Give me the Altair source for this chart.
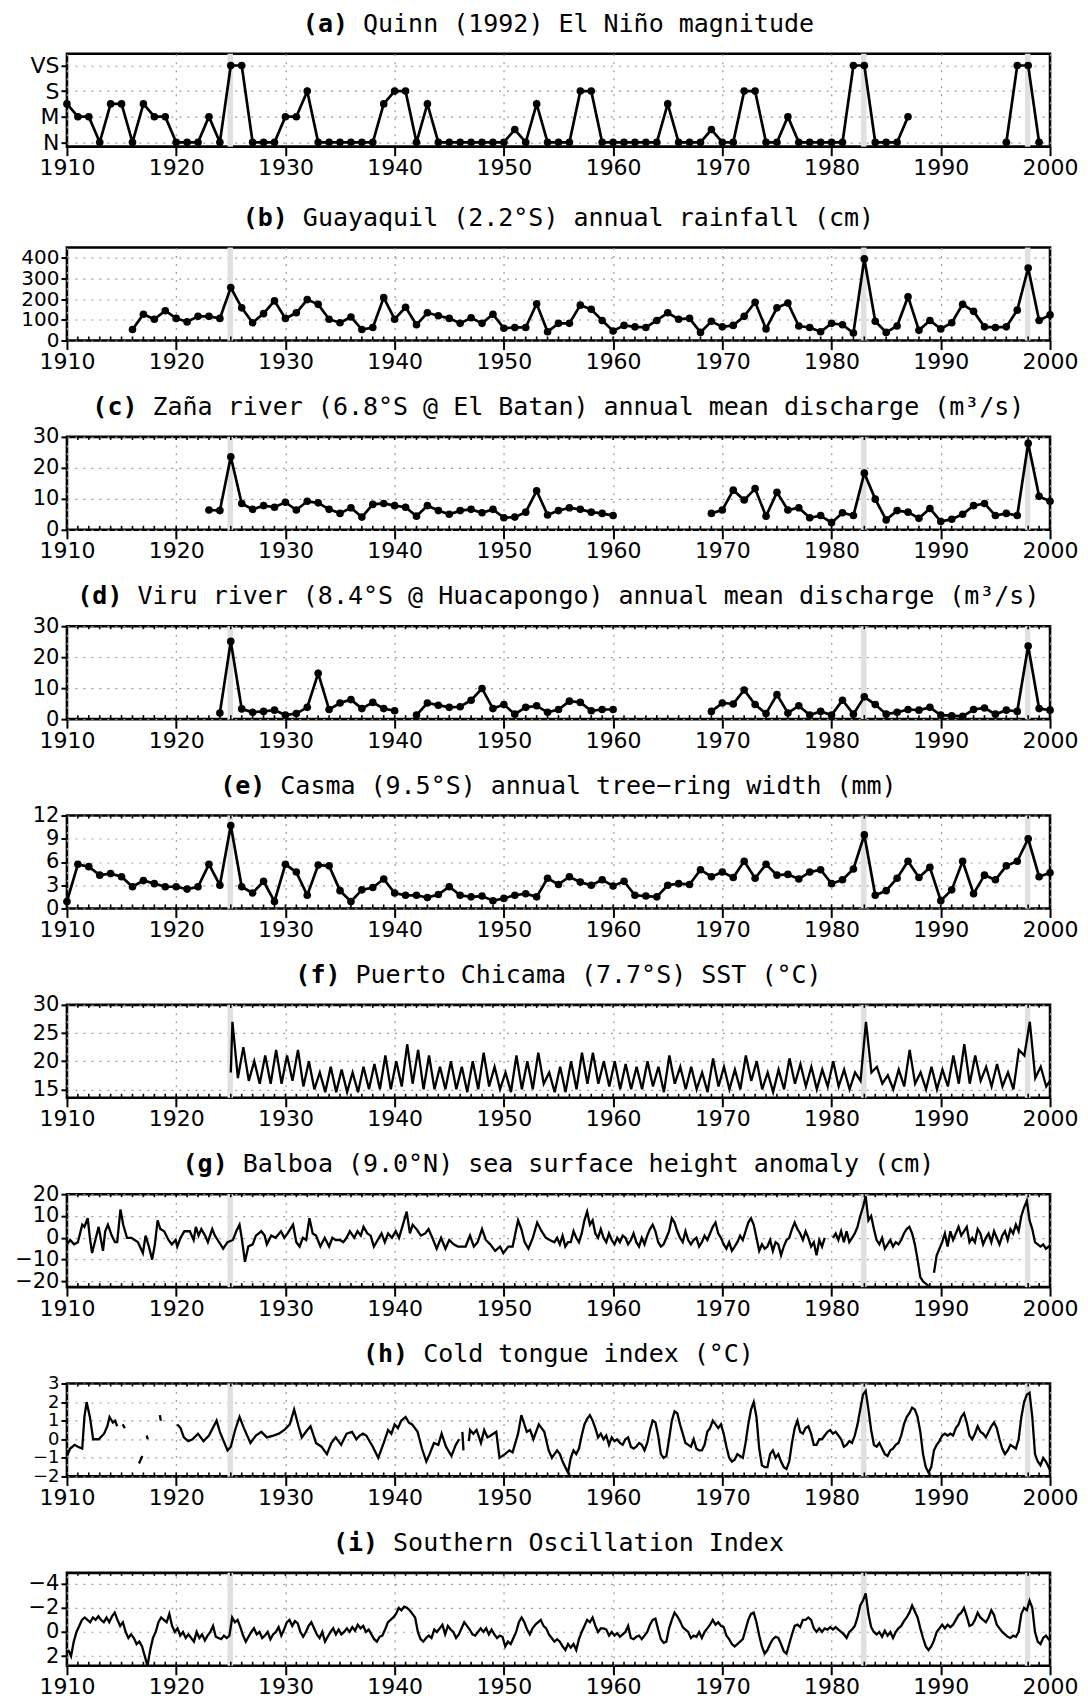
import altair as alt
import pandas as pd

# ---------------- data ----------------
DECADES = list(range(1910, 2001, 10))
YEARS = list(range(1910, 2001))
EVENT_BANDS = [(1924.7, 1925.2), (1982.7, 1983.2), (1997.7, 1998.2)]

# (a) Quinn magnitude 1910-1999 (N=0, M=1, S=2, VS=3)
quinn = [1.5, 1, 1, 0, 1.5, 1.5, 0, 1.5, 1, 1,
         0, 0, 0, 1, 0, 3, 3, 0, 0, 0,
         1, 1, 2, 0, 0, 0, 0, 0, 0, 1.5,
         2, 2, 0, 1.5, 0, 0, 0, 0, 0, 0,
         0, 0.5, 0, 1.5, 0, 0, 0, 2, 2, 0,
         0, 0, 0, 0, 0, 1.5, 0, 0, 0, 0.5,
         0, 0, 2, 2, 0, 0, 1, 0, 0, 0,
         0, 0, 3, 3, 0, 0, 0, 1, None, None,
         None, None, None, None, None, None, 0, 3, 3, 0]

# (b) Guayaquil rainfall 1916-2000 (cm)
guayaquil = [53, 127, 103, 144,
             107, 90, 117, 117, 107, 256, 158, 86, 130, 192,
             107, 134, 198, 175, 103, 86, 114, 53, 63, 208,
             103, 161, 76, 134, 120, 107, 83, 110, 83, 127,
             59, 63, 63, 178, 42, 83, 83, 171, 151, 97,
             46, 73, 66, 63, 97, 134, 103, 107, 39, 93,
             66, 73, 117, 185, 56, 158, 181, 70, 63, 42,
             83, 76, 36, 395, 93, 39, 70, 212, 49, 97,
             56, 86, 175, 141, 66, 63, 66, 147, 351, 97,
             124]

# (c) Zana river 1923-2000 (m3/s)
zana = [6.4, 6.2, 23.6, 8.5, 6.6, 7.8, 7.3,
        8.9, 6.4, 9.2, 8.7, 6.6, 5.3, 7.1, 4.1, 8.2, 8.5,
        7.8, 7.3, 4.4, 7.8, 6.2, 5.0, 6.2, 6.6, 5.5, 6.6,
        3.9, 4.1, 5.7, 12.6, 4.8, 6.2, 7.1, 6.6, 5.7, 5.3,
        4.6, None, None, None, None, None, None, None, None, 5.3,
        6.4, 12.8, 9.6, 13.3, 4.4, 12.1, 6.4, 7.1, 3.9, 4.6,
        2.3, 5.5, 4.6, 18.3, 9.9, 3.2, 6.2, 5.7, 3.7, 6.9,
        2.7, 3.4, 5.0, 7.8, 8.5, 4.6, 5.3, 4.6, 27.9, 10.8,
        9.2]

# (d) Viru river 1924-2000 (m3/s)
viru = [2.0, 25.1, 3.3, 2.2, 2.5, 2.9,
        1.3, 1.8, 3.8, 14.8, 3.1, 5.2, 6.3, 3.4, 5.4, 3.4,
        2.7, None, 1.3, 5.2, 4.5, 3.8, 4.0, 6.1, 9.9, 3.4,
        4.7, 1.6, 3.8, 4.3, 2.2, 3.1, 5.8, 5.4, 2.7, 3.1,
        3.1, None, None, None, None, None, None, None, None, 2.5,
        5.2, 4.9, 9.4, 4.7, 1.8, 7.9, 2.0, 4.3, 1.3, 2.5,
        1.3, 6.1, 1.6, 7.2, 4.7, 1.6, 2.2, 3.1, 2.9, 3.8,
        1.3, 1.1, 0.9, 3.1, 3.6, 1.6, 2.9, 2.5, 23.6, 3.4,
        2.9]

# (e) Casma tree-ring width 1910-2000 (mm)
casma = [0.9, 5.7, 5.4, 4.3, 4.5, 4.1, 2.8, 3.6, 3.2, 2.8,
         2.8, 2.5, 2.8, 5.7, 3.0, 10.7, 2.8, 2.0, 3.5, 0.9,
         5.7, 4.7, 1.7, 5.6, 5.5, 2.3, 0.9, 2.4, 2.7, 3.8,
         2.0, 1.7, 1.7, 1.4, 1.8, 2.8, 1.7, 1.5, 1.6, 1.0,
         1.3, 1.7, 1.9, 1.5, 3.9, 3.1, 4.1, 3.4, 3.0, 3.7,
         2.9, 3.5, 1.7, 1.6, 1.5, 3.0, 3.2, 3.1, 5.0, 4.1,
         4.7, 4.0, 6.1, 3.9, 5.7, 4.3, 4.4, 3.8, 4.7, 5.0,
         3.2, 3.7, 5.1, 9.5, 1.7, 2.3, 3.9, 6.1, 4.0, 5.3,
         1.0, 2.4, 6.1, 1.9, 4.3, 3.7, 5.5, 6.1, 9.0, 4.1,
         4.6]

# (f) Puerto Chicama SST 1925-2000: yearly warm-season peak and cold-season low
sst_peak = [27, 22.5, 20, 21, 22, 21, 22, 20, 18, 19,
            18.5, 18, 19, 19.5, 21, 20, 23, 22, 21, 19,
            20, 19, 20, 21.5, 19, 18, 21, 20, 21.5, 18,
            19, 20, 21.5, 21.5, 20, 20, 19.5, 19, 20, 19,
            21, 19, 19, 18, 20.5, 19, 18.5, 21, 20, 18,
            18.5, 20.5, 19.5, 19, 18.5, 20, 18.5, 18, 27, 19,
            17.5, 18.5, 22, 18, 19, 18.5, 21, 23, 21, 19,
            19.5, 18, 22, 27, 19, 17]
sst_low = [17, 16.5, 16, 16, 16, 16.5, 15.5, 15, 14.5, 14.5,
           14.5, 14.5, 15, 15, 15, 15.5, 16, 15, 15, 15,
           15, 14.5, 15, 15.5, 15, 14.5, 15, 15, 16, 14.5,
           14.5, 15, 16, 16, 15.5, 15, 15, 15, 15.5, 14.5,
           16, 15, 15, 14.5, 15.5, 15, 15, 16.5, 15, 14.5,
           15, 16, 15.5, 15, 15.5, 15.5, 15, 16.5, 18, 16,
           15, 15.5, 16, 15, 15, 15.5, 16, 16, 16.5, 15.5,
           15.5, 15, 21, 17, 15.5, 14.5]

# (g) Balboa sea level anomaly (cm): 1910-1954 read point by point
balboa_early = [(1910.0, -3), (1910.3, -1), (1910.65, -3), (1911.0, -2), (1911.4, 6), (1911.6, 5),
                (1911.9, 9), (1912.1, 0), (1912.3, -7), (1912.6, -1), (1912.9, 5), (1913.3, -6),
                (1913.5, 3), (1913.75, 6), (1914.1, 1), (1914.4, -2), (1914.6, -2), (1914.9, 13),
                (1915.15, 6), (1915.5, 0), (1915.9, 0), (1916.2, -1), (1916.5, -2), (1916.95, -7),
                (1917.2, 1), (1917.5, -4), (1917.8, -10), (1918.05, -3), (1918.3, 8), (1918.55, 4),
                (1918.9, 3), (1919.3, -1), (1919.6, -3), (1919.95, -1), (1920.1, -4), (1920.4, 0),
                (1920.75, 3), (1921.25, 3), (1921.6, -1), (1921.8, 5), (1922.05, 1), (1922.3, 4),
                (1922.65, 1), (1922.9, -2), (1923.3, 4), (1923.55, 1), (1923.8, -1), (1924.3, -5),
                (1924.7, -2), (1925.2, -1), (1925.5, 3), (1925.8, 6), (1926.0, 0), (1926.3, -11),
                (1926.6, -4), (1927.0, -3), (1927.3, 1), (1927.8, 3), (1928.1, 1), (1928.3, -3),
                (1928.7, 1), (1929.1, 0), (1929.6, 3), (1929.9, 0), (1930.2, 2), (1930.7, 6),
                (1931.0, -2), (1931.3, -4), (1931.6, 0), (1931.9, -1), (1932.2, 9), (1932.5, 2),
                (1932.8, 1), (1933.2, -4), (1933.6, 0), (1934.0, -4), (1934.3, 0), (1934.6, -1),
                (1935.0, -1), (1935.3, -2), (1935.6, 0), (1935.9, 3), (1936.3, 0), (1936.6, 3),
                (1936.9, 1), (1937.15, 5), (1937.5, 2), (1937.8, 1), (1938.1, -4), (1938.45, -1),
                (1938.8, 2), (1939.1, -2), (1939.4, 2), (1939.75, 0), (1940.1, 3), (1940.4, 0),
                (1940.7, 5), (1941.1, 12), (1941.4, 2), (1941.65, 6), (1942.0, 4), (1942.4, 1),
                (1942.8, 2), (1943.1, 4), (1943.45, 0), (1943.85, -5), (1944.25, 0), (1944.65, -5),
                (1945.0, -1), (1945.4, -3), (1945.8, -4), (1946.2, -4), (1946.5, -4), (1946.9, 1),
                (1947.25, -4), (1947.6, -2), (1948.0, 4), (1948.35, -1), (1948.75, -3), (1949.2, -6),
                (1949.65, -4), (1949.95, -7), (1950.4, -4), (1950.8, -4), (1951.3, 8), (1951.6, 4),
                (1951.9, -2), (1952.25, -5), (1952.65, 0), (1953.05, 7), (1953.45, 3), (1953.85, 0),
                (1954.2, -1)]
# 1954 Q3 - 2000 Q1, quarterly
balboa_late = [-2, 0,
               -3, 1, -4, -2, -2, 3, 0, -2, 2, 8, 12, 6, 8, 2, 0, 4, 0, -2, 2, -1,
               -3, 0, -2, 1, 0, -3, -1, 2, -2, -4, 0, -3, 1, 4, 6, 3, -2, -4, -3, 0,
               3, 9, 7, 3, 0, -2, 3, -1, -3, -1, 0, -4, -2, 1, -1, 2, 5, 7, 2, 0,
               -3, -5, -2, -6, -4, -2, 1, -1, 3, 7, 9, 6, 0, -6, -3, -5, -4, -1, -6, -2,
               -3, -8, -4, -1, 0, 4, 7, 4, 2, -1, 3, 0, -4, -2, -8, -1, -4, 0, None, None,
               0, 2, -1, 3, -2, 3, -2, 0, 2, 5, 10, 14, 19, 8, 10, 4, -1, -3, 0, -5,
               -3, -1, -4, -2, -3, -1, 2, 4, 5, 2, -3, -10, -18, -20, -21, -22, None, -16, -8, -5,
               -2, 2, -4, 3, -1, 2, 5, 1, 3, 5, -2, 0, -2, 4, 2, -3, 0, 2, -2, 3,
               0, -3, 1, 3, -1, 4, 2, 6, 3, 10, 14, 17, 8, 4, -2, -3, -4, -3, -5, -4,
               -5]

# (h) Cold tongue index (degC): 1910-1954 point by point (None = gap)
cti_early = [(1910.0, -0.9), (1910.3, -0.5), (1910.7, -0.3), (1911.0, -0.4), (1911.4, -0.5),
             (1911.6, 1.2), (1911.8, 2.0), (1912.1, 1.2), (1912.4, 0.0), (1912.9, 0.0),
             (1913.4, 0.3), (1913.7, 0.7), (1913.9, 1.2), (1914.2, 0.9), (1914.4, 1.0),
             (1914.6, 0.7), (1914.7, None), (1915.1, 0.8), (1915.3, 0.6), (1915.5, None),
             (1916.6, -1.3), (1916.9, -0.9), (1917.0, None), (1917.3, 0.2), (1917.4, 0.0),
             (1917.5, None), (1918.5, 1.3), (1918.6, 1.0), (1918.7, None),
             (1920.1, 0.8), (1920.4, 0.6), (1920.7, 0.1), (1921.1, -0.1), (1921.5, 0.0),
             (1922.0, 0.3), (1922.5, -0.1), (1923.0, 0.2), (1923.7, 1.0), (1924.0, 0.4),
             (1924.7, -0.6), (1925.0, -0.4), (1925.4, 0.5), (1925.8, 1.2), (1926.2, 0.6),
             (1926.8, -0.2), (1927.3, 0.2), (1927.8, 0.4), (1928.3, 0.1), (1928.9, 0.2),
             (1929.4, 0.3), (1929.9, 0.5), (1930.4, 0.8), (1930.8, 1.6), (1931.2, 0.7),
             (1931.5, 0.1), (1932.0, 0.5), (1932.3, 0.7), (1932.8, -0.2), (1933.3, -0.4),
             (1933.8, -0.8), (1934.2, -0.2), (1934.6, 0.1), (1935.1, -0.3), (1935.6, 0.3),
             (1936.1, 0.4), (1936.5, 0.0), (1936.8, 0.2), (1937.1, 0.3), (1937.4, 0.2),
             (1938.0, -0.4), (1938.5, -1.0), (1939.0, -0.2), (1939.4, 0.5), (1939.7, 0.3),
             (1940.0, 0.8), (1940.3, 0.6), (1940.6, 1.0), (1941.0, 1.2), (1941.3, 0.9),
             (1941.6, 0.8), (1942.1, 0.4), (1942.5, -0.5), (1942.9, -1.2), (1943.2, -0.8),
             (1943.6, -0.2), (1944.0, -0.3), (1944.3, 0.3), (1944.7, -0.4), (1945.2, -0.9),
             (1945.6, -0.3), (1945.9, 0.0), (1946.0, None), (1946.2, 0.4), (1946.3, -0.6),
             (1946.5, None), (1946.8, -0.1), (1946.9, 0.5), (1947.2, 0.3), (1947.5, 0.5),
             (1947.9, -0.2), (1948.2, 0.5), (1948.5, 0.1), (1948.8, 0.2), (1949.3, 0.4),
             (1949.6, -1.0), (1950.1, -0.8), (1950.5, -0.6), (1950.8, -0.7), (1951.3, 0.3),
             (1951.6, 1.3), (1952.1, 0.4), (1952.4, 0.5), (1952.7, 0.0), (1953.2, 0.8),
             (1953.7, 0.4), (1954.1, -0.6), (1954.4, -1.0)]
# 1954 Q3 - 2000 Q2, quarterly
cti_late = [-0.8, -0.6,
            -0.8, -1.2, -1.5, -1.8, -1.0, -0.6, -0.8, -0.5, 0.2, 0.8, 1.1, 1.3, 1.0, 0.6, 0.1, 0.3,
            0.0, 0.2, -0.3, 0.1, -0.1, 0.0, -0.2, -0.3, 0.0, 0.1, -0.4, -0.5, -0.4, -0.2, -0.3, -0.6,
            -0.2, 0.5, 1.0, 0.9, 0.2, -0.8, -1.0, -0.9, 0.0, 1.0, 1.5, 1.4, 0.8, 0.3, -0.2, -0.3,
            -0.4, 0.0, -0.5, -0.6, -0.6, -0.3, 0.4, 0.6, 1.0, 0.8, 0.6, 0.8, 0.3, -0.4, -1.0, -1.2,
            -1.1, -0.8, -0.9, -1.0, -0.2, 0.8, 1.6, 2.0, 1.2, -0.5, -1.4, -1.5, -1.5, -0.8, -0.6, -1.0,
            -0.8, -1.2, -1.5, -1.6, -1.2, -0.2, 0.6, 1.0, 0.4, 0.3, 0.6, 0.7, 0.3, -0.3, -0.3, 0.0,
            0.0, 0.2, 0.4, 0.5, 0.3, 0.4, 0.2, 0.0, -0.4, -0.3, -0.1, -0.2, 0.2, 0.8, 1.6, 2.4,
            2.6, 1.6, 0.5, -0.3, -0.4, -0.2, -0.5, -0.8, -0.9, -0.6, -0.5, -0.3, -0.2, 0.2, 0.8, 1.2,
            1.4, 1.7, 1.6, 1.2, 0.4, -0.8, -1.5, -1.8, -1.5, -0.6, -0.3, -0.1, 0.2, 0.3, 0.2, 0.3,
            0.2, 0.6, 0.8, 1.2, 1.4, 0.9, 0.2, 0.0, 0.3, 0.7, 0.4, 0.3, 0.1, 0.4, 0.7, 0.9,
            0.6, 0.0, -0.5, -0.8, -0.6, -0.3, -0.4, -0.5, 0.0, 1.2, 2.0, 2.4, 2.5, 1.2, -0.8, -1.2,
            -1.4, -1.0, -1.2, -1.5, -1.8, -0.8]

# (i) Southern Oscillation Index, quarterly 1910 Q1 - 2000 Q2
soi = [1.5, 2.0, 0.8, 0.0, -0.5, -1.0, -1.2, -1.0, -0.8, -1.2, -1.0, -1.3, -1.0, -0.8, -1.2, -0.8,
       -1.3, -1.6, -1.0, -0.5, -0.8, 0.0, 0.5, 0.2, 0.5, 1.0, 0.8, 1.2, 2.0, 2.8, 1.5, 0.5,
       0.0, -0.8, -1.2, -1.0, -0.8, -1.5, -0.5, 0.0, -0.3, 0.3, 0.0, 0.5, 0.2, 0.5, 0.8, 0.0,
       0.5, 0.2, 0.7, 0.3, 0.0, -0.5, 0.4, 0.5, 0.6, 0.3, 0.5, 0.3, -1.2, -0.8, -1.0, -0.4,
       0.3, 0.8, 0.4, 0.0, -0.3, 0.2, 0.0, 0.5, 0.3, 0.0, 0.6, 0.2, 0.0, -0.4, 0.3, -0.2,
       -0.8, -1.0, -0.5, -0.9, -0.7, 0.0, 0.4, 0.0, -0.5, -0.8, -0.3, 0.2, 0.5, 0.0, 0.8, 0.4,
       0.0, -0.3, 0.2, -0.2, 0.2, 0.0, -0.3, 0.0, -0.4, -0.1, -0.6, -0.3, -0.5, 0.0, -0.2, 0.2,
       0.6, 0.8, 0.4, 0.3, -0.2, -0.8, -1.0, -1.2, -1.5, -2.0, -1.8, -2.1, -2.0, -1.8, -1.5, -1.2,
       0.0, 0.6, 0.8, 0.5, 0.3, 0.5, -0.2, 0.0, -0.3, -0.6, 0.2, -0.5, -0.2, 0.0, 0.5, 0.2,
       -0.3, -0.8, -0.5, -0.2, 0.2, 0.3, 0.0, -0.3, 0.0, -0.3, 0.2, -0.2, 0.2, 0.5, 0.3, 0.4,
       1.2, 0.8, 1.0, 0.5, 0.0, -0.8, -1.2, -0.8, -0.2, 0.2, -0.3, -0.6, -0.8, -1.0, -0.5, -0.3,
       0.2, 0.5, 0.8, 0.6, 0.8, 1.2, 1.5, 1.0, 1.3, 1.0, 1.5, 0.6, 0.0, -0.5, -1.0, -0.8,
       -1.2, -0.5, 0.0, -0.3, -0.3, -0.2, 0.3, 0.0, 0.3, 0.1, 0.4, 0.2, 0.0, -0.5, 0.5, 0.6,
       0.4, 0.3, 0.6, 0.3, 0.0, -0.6, -1.0, -1.1, -0.2, 0.6, 0.9, 0.8, -0.3, -1.0, -1.6, -1.3,
       -0.9, -0.4, -0.2, 0.0, 0.5, 0.3, 0.4, 0.0, 0.5, 0.0, -0.3, -0.6, -1.0, -0.6, -0.8, -0.5,
       -0.4, 0.3, 0.6, 1.0, 1.2, 1.0, 0.8, 0.6, -0.2, -1.0, -1.5, -1.6, -0.8, 0.3, 1.2, 1.8,
       1.5, 1.0, 0.6, 0.4, 0.5, 1.0, 1.6, 1.8, 1.0, 0.2, -0.5, -0.6, -0.4, -1.0, -1.0, -1.2,
       -1.0, -0.3, 0.0, -0.3, 0.0, -0.3, -0.2, -0.4, -0.2, -0.4, -0.2, 0.0, 0.2, 0.5, 0.0, -0.2,
       -0.5, -1.2, -2.2, -2.6, -3.2, -1.5, -0.4, 0.0, 0.2, 0.0, 0.4, -0.1, 0.3, 0.0, 0.5, 0.0,
       -0.3, -0.5, -0.9, -1.2, -1.6, -2.2, -1.7, -1.2, -0.3, 0.5, 1.2, 1.5, 1.2, 0.7, 0.0, -0.3,
       -0.6, -0.3, -0.6, -0.4, -0.6, -1.0, -1.4, -1.6, -2.0, -1.3, -0.5, -0.6, -1.0, -1.6, -1.2, -1.0,
       -0.8, -1.2, -1.8, -1.4, -0.6, -0.3, 0.0, 0.2, 0.4, 0.5, 0.3, 0.4, 0.0, -1.5, -2.0, -1.8,
       -2.6, -2.0, 0.0, 0.8, 1.0, 0.5, 0.3, 0.6, 0.8, 0.2]


# ---------------- helpers to build tables ----------------
def segments(pairs):
    rows, seg = [], 0
    for t, v in pairs:
        if v is None:
            seg += 1
            continue
        rows.append({"t": t, "v": v, "seg": seg})
    return pd.DataFrame(rows)


def annual(start, vals):
    return segments([(start + i, v) for i, v in enumerate(vals)])


def quarterly(start, vals):
    return [(start + (i + 0.5) / 4.0, v) for i, v in enumerate(vals)]


sst_pairs = []
for i, (p, lo) in enumerate(zip(sst_peak, sst_low)):
    y = 1925 + i
    sst_pairs += [(y + 0.15, p), (y + 0.65, lo)]

df_a = annual(1910, quinn)
df_b = annual(1916, guayaquil)
df_c = annual(1923, zana)
df_d = annual(1924, viru)
df_e = annual(1910, casma)
df_f = segments([(1925.0, 18.0)] + sst_pairs)
df_g = segments(balboa_early + quarterly(1954.5, balboa_late))
df_h = segments(cti_early + quarterly(1954.5, cti_late))
df_i = segments(quarterly(1910.0, soi))
band_df = pd.DataFrame({"x0": [b[0] for b in EVENT_BANDS], "x1": [b[1] for b in EVENT_BANDS]})
minor_df = pd.DataFrame({"t": YEARS})

# ---------------- styling ----------------
W, H = 984, 93
SPACING = 96.5
FIRST_GAP = 101
TICK_FONT = "DejaVu Sans"
TITLE_FONT = "DejaVu Sans Mono"
TITLE_FS = 25
CHAR_W = 0.602 * TITLE_FS
TITLE_DY = -22


def panel(label, text, df, ydom, yvals, label_expr=None, points=False,
          reverse=False, lw=2.3, minor_bottom=True, minor_top=True, yfs=21):
    xs = alt.Scale(domain=[1910, 2000], nice=False, zero=False)
    ys = alt.Scale(domain=ydom, nice=False, zero=False, reverse=reverse)
    xaxis = alt.Axis(values=DECADES, format="d", title=None, tickSize=9,
                     labelPadding=2, labelFontSize=22, labelFlush=False)

    band = alt.Chart(band_df).mark_rect(color="#e0e0e0").encode(
        x=alt.X("x0:Q", scale=xs, axis=xaxis), x2="x1:Q",
        y=alt.value(0), y2=alt.value(H))

    layers = [band]
    if minor_bottom:
        layers.append(alt.Chart(minor_df).mark_rule(color="black", strokeWidth=1.6).encode(
            x=alt.X("t:Q", scale=xs, axis=xaxis), y=alt.value(H), y2=alt.value(H - 4)))
    if minor_top:
        layers.append(alt.Chart(minor_df).mark_rule(color="black", strokeWidth=1.6).encode(
            x=alt.X("t:Q", scale=xs, axis=xaxis), y=alt.value(0), y2=alt.value(3)))

    yaxis_kw = dict(values=yvals, title=None, tickSize=6, labelPadding=2, labelFontSize=yfs)
    if label_expr:
        yaxis_kw["labelExpr"] = label_expr
    if points:
        mark = alt.Chart(df).mark_line(
            color="black", strokeWidth=lw,
            point=alt.OverlayMarkDef(filled=True, color="black", size=58, opacity=1))
    else:
        mark = alt.Chart(df).mark_line(color="black", strokeWidth=lw, clip=True)
    line = mark.encode(
        x=alt.X("t:Q", scale=xs, axis=xaxis),
        y=alt.Y("v:Q", scale=ys, axis=alt.Axis(**yaxis_kw)),
        detail="seg:N")
    layers.append(line)

    n = len(label) + 1 + len(text)
    x0 = W / 2 - n * CHAR_W / 2
    t1 = alt.Chart(pd.DataFrame({"s": [label]})).mark_text(
        font=TITLE_FONT, fontSize=TITLE_FS, fontWeight="bold", align="left",
        baseline="alphabetic", color="black").encode(
        text="s:N", x=alt.value(x0), y=alt.value(TITLE_DY))
    t2 = alt.Chart(pd.DataFrame({"s": [text]})).mark_text(
        font=TITLE_FONT, fontSize=TITLE_FS, fontWeight="normal", align="left",
        baseline="alphabetic", color="black").encode(
        text="s:N", x=alt.value(x0 + (len(label) + 1) * CHAR_W), y=alt.value(TITLE_DY))
    layers += [t1, t2]
    return alt.layer(*layers).properties(width=W, height=H)


panel_a = panel("(a)", "Quinn (1992) El Niño magnitude", df_a, [-0.17, 3.46], [0, 1, 2, 3],
                label_expr="datum.value == 0 ? 'N' : datum.value == 1 ? 'M' : datum.value == 2 ? 'S' : 'VS'",
                points=True, lw=2.7, minor_bottom=False, minor_top=False, yfs=22)
rest = [
    panel("(b)", "Guayaquil (2.2°S) annual rainfall (cm)", df_b, [0, 450],
          [0, 100, 200, 300, 400], points=True, lw=2.7, minor_top=False, yfs=20),
    panel("(c)", "Zaña river (6.8°S @ El Batan) annual mean discharge (m³/s)", df_c,
          [0, 30], [0, 10, 20, 30], points=True, lw=2.7),
    panel("(d)", "Viru river (8.4°S @ Huacapongo) annual mean discharge (m³/s)", df_d,
          [0, 30], [0, 10, 20, 30], points=True, lw=2.7),
    panel("(e)", "Casma (9.5°S) annual tree−ring width (mm)", df_e, [0, 12],
          [0, 3, 6, 9, 12], points=True, lw=2.7),
    panel("(f)", "Puerto Chicama (7.7°S) SST (°C)", df_f, [13.5, 30], [15, 20, 25, 30]),
    panel("(g)", "Balboa (9.0°N) sea surface height anomaly (cm)", df_g, [-22.6, 20],
          [-20, -10, 0, 10, 20]),
    panel("(h)", "Cold tongue index (°C)", df_h, [-2, 3], [-2, -1, 0, 1, 2, 3], yfs=18),
    panel("(i)", "Southern Oscillation Index", df_i, [-4.9, 2.8], [-4, -2, 0, 2],
          reverse=True),
]

inner = alt.vconcat(*rest, spacing=SPACING, bounds="flush")
chart = alt.vconcat(panel_a, inner, spacing=FIRST_GAP, bounds="flush").properties(
    padding={"left": 5, "top": 1, "right": 0, "bottom": 0},
    background="white",
).configure_view(
    stroke="black", strokeWidth=2.6
).configure_axis(
    labelFont=TICK_FONT, labelColor="black",
    tickColor="black", tickWidth=2, domain=False,
    grid=True, gridColor="#9a9a9a", gridDash=[2, 6], gridWidth=1.2,
    labelOverlap=False,
)

chart.save("out.html", embed_options={"renderer": "svg", "actions": False})
